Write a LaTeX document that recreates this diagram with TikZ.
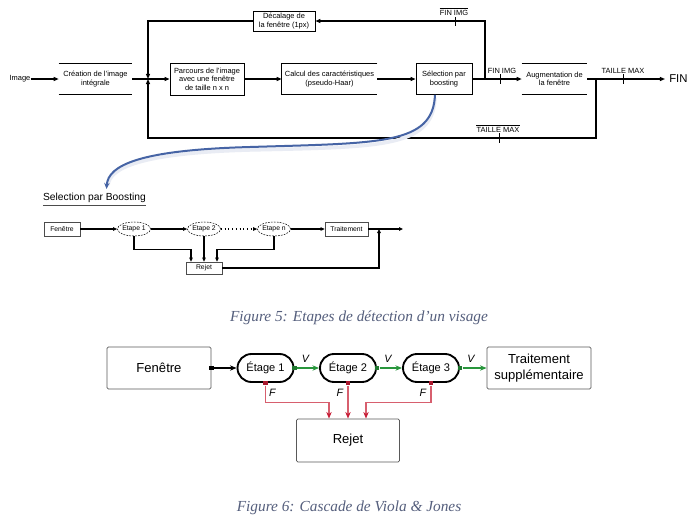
\documentclass[tikz,border=0pt]{standalone}
\usepackage{fontspec}
\setmainfont{Liberation Serif}
\setsansfont{Liberation Sans}
\usetikzlibrary{arrows.meta,shapes.geometric,shapes.misc,calc}
\definecolor{capc}{RGB}{85,95,125}
\definecolor{vgreen}{RGB}{40,150,60}
\definecolor{fred}{RGB}{200,30,55}
\definecolor{fredl}{RGB}{215,95,110}
\definecolor{bcurve}{RGB}{70,100,165}
\tikzset{
  t1/.style={font=\sffamily\fontsize{5.6}{6.3}\selectfont, align=center, inner sep=0pt},
  t2/.style={font=\sffamily\fontsize{5.1}{6}\selectfont, align=center, inner sep=0pt},
  ln/.style={line width=0.9pt},
  bl/.style={line width=0.6pt},
  ar/.style={ln, -{Triangle[length=3.8pt,width=3pt]}},
  mar/.style={line width=0.8pt, -{Triangle[length=3pt,width=2.6pt]}},
  mbox/.style={t2, draw=black!70, line width=0.5pt},
  etp/.style={t2, ellipse, draw, dash pattern=on 1.3pt off 0.9pt, line width=0.4pt, inner sep=0pt, minimum width=24.75pt, minimum height=10.5pt},
  f6t/.style={font=\sffamily\fontsize{9.8}{11.5}\selectfont, align=center, inner sep=0pt},
  f6box/.style={f6t, draw=black!65, line width=0.6pt, rounded corners=1pt, minimum width=78pt},
  etage/.style={rounded rectangle, draw, line width=1.4pt, font=\sffamily\fontsize{8.3}{10}\selectfont, inner sep=0pt, minimum width=42pt, minimum height=21pt},
  sq/.style={inner sep=0pt, minimum size=3.5pt},
  garr/.style={vgreen, line width=0.8pt, -{Stealth[length=5pt,width=4pt]}},
  rarr/.style={fredl, line width=0.8pt, -{Stealth[length=5pt,width=4pt,color=fred]}},
  vlab/.style={font=\sffamily\itshape\fontsize{8}{9}\selectfont, inner sep=0pt},
  figcap/.style={font=\itshape\fontsize{11.5}{13}\selectfont, text=capc, inner sep=0pt}
}
\begin{document}
\begin{tikzpicture}[x=0.75pt,y=-0.75pt]
\useasboundingbox (0,0) rectangle (690,526);
\fill[white] (0,0) rectangle (690,526);

% ---------------- top diagram ----------------
\node[t1] (img) at (20,79) {Image};
\node[t1, minimum width=54.75pt, minimum height=22.5pt] (crea) at (95.5,79) {Création de l'image\\intégrale};
\draw[bl] (crea.north west) -- (crea.north east) (crea.south west) -- (crea.south east);
\node[t1, draw, bl, minimum width=55.5pt, minimum height=24pt] (parc) at (207,79) {Parcours de l'image\\avec une fenêtre\\de taille n x n};
\node[t1, minimum width=71.25pt, minimum height=23.25pt] (calc) at (329.5,79) {Calcul des caractéristiques\\(pseudo-Haar)};
\draw[bl] (calc.north east) -- (calc.north west) -- (calc.south west) -- (calc.south east);
\node[t1, draw, bl, minimum width=42pt, minimum height=23.25pt] (sel) at (444,79) {Sélection par\\boosting};
\node[t1, minimum width=48.75pt, minimum height=23.25pt] (aug) at (554.5,79) {Augmentation de\\la fenêtre};
\draw[bl] (aug.north west) -- (aug.north east) (aug.south west) -- (aug.south east);
\node[t1, draw, bl, minimum width=46.5pt, minimum height=15pt] (dec) at (284,21) {Décalage de\\la fenêtre (1px)};
\node[font=\sffamily\fontsize{8.5}{10}\selectfont, inner sep=0pt, anchor=west] (fin) at (669,79) {FIN};

\coordinate (J1) at (148,79);
\coordinate (J2) at (485,79);
\coordinate (J3) at (596,79);
\coordinate (TL) at (148,21);
\coordinate (TR) at (485,21);
\coordinate (BL) at (148,138);
\coordinate (BR) at (596,138);

\draw[ar] (img.east) -- (crea.west);
\draw[ln] (crea.east) -- (J1);
\draw[ar] (J1) -- (parc.west);
\draw[ar] (parc.east) -- (calc.west);
\draw[ar] (calc.east) -- (sel.west);
\draw[ln] (sel.east) -- (J2);
\draw[ar] (J2) -- (aug.west);
\draw[ar] (J2) -- (TR) -- (dec.east);
\draw[ar] (dec.west) -- (TL) -- (J1);
\draw[ar] (aug.east) -- ([xshift=-3pt]fin.west);
\draw[ar] (J3) -- (BR) -- (BL) -- (J1);

% ticks
\draw[bl] (500,74) -- (500,84);
\draw[bl] (455,17) -- (455,26);
\draw[bl] (623,74) -- (623,84);
\draw[bl] (499,133) -- (499,143);

% labels
\node[t1] (lfi1) at (502,71) {FIN IMG};
\node[t1] (lfi2) at (454,12.5) {FIN IMG};
\draw[line width=0.4pt] ([yshift=1.2pt]lfi2.north west) -- ([yshift=1.2pt]lfi2.north east);
\node[t1] (ltm1) at (623,71) {TAILLE MAX};
\node[t1] (ltm2) at (498,130) {TAILLE MAX};
\draw[line width=0.4pt] ([yshift=1.2pt]ltm2.north west) -- ([yshift=1.2pt]ltm2.north east);

% ---------------- blue curve ----------------
\node[font=\sffamily\fontsize{7.7}{9}\selectfont, inner sep=0pt] (selt) at (94.5,198) {Selection par Boosting};
\draw[line width=0.6pt, black!70] ([yshift=-1.6pt]selt.south west) -- ([yshift=-1.6pt]selt.south east);
\draw[bcurve!12, line width=2.6pt] ($(sel.south)+(-9,3)$) .. controls (433,148) and (380,147) .. (250,150) .. controls (140,153) and (110,168) .. (108,185);
\draw[bcurve, line width=1.5pt, -{Stealth[length=4.5pt,width=4pt]}] ($(sel.south)+(-9,0)$) .. controls (433,145) and (380,143) .. (250,147) .. controls (140,150) and (108,165) .. ($(selt.north)+(12,-4)$);

% ---------------- mini diagram ----------------
\node[mbox, minimum width=27pt, minimum height=10.5pt] (mfen) at (62,229) {Fenêtre};
\node[etp] (e1) at (134,229) {Etape 1};
\node[etp] (e2) at (204,229) {Etape 2};
\node[etp] (en) at (274,229) {Etape n};
\node[mbox, minimum width=32.25pt, minimum height=10.5pt] (mtr) at (346.5,229) {Traitement};
\node[mbox, minimum width=27pt, minimum height=9pt] (mrej) at (204,268) {Rejet};
\coordinate (MJ) at (379,229);
\coordinate (MOut) at (403,229);

\draw[mar] (mfen.east) -- (e1.west);
\draw[mar] (e1.east) -- (e2.west);
\draw[mar, dotted] (e2.east) -- (en.west);
\draw[mar] (en.east) -- (mtr.west);
\draw[mar] (mtr.east) -- (MOut);
\draw[mar] (e1.south) -- ++(0,13) -| ($(mrej.north)+(-13,0)$);
\draw[mar] (e2.south) -- (mrej.north);
\draw[mar] (en.south) -- ++(0,13) -| ($(mrej.north)+(13,0)$);
\draw[mar] (mrej.east) -| (MJ);

\node[figcap] (cap5) at (359,318) {Figure 5: Etapes de détection d'un visage};

% ---------------- figure 6 ----------------
\node[f6box, minimum height=31.5pt] (fen6) at (159,368) {Fenêtre};
\node[etage] (s1) at (265.5,368) {Étage 1};
\node[etage] (s2) at (348,368) {Étage 2};
\node[etage] (s3) at (431,368) {Étage 3};
\node[f6box, minimum height=31.5pt] (tr6) at (539,368) {Traitement\\supplémentaire};
\node[f6box, minimum width=77.25pt, minimum height=32.25pt] (rej6) at (348,440.5) {Rejet};

\node[sq, fill=black] (k0) at (fen6.east) {};
\node[sq, fill=vgreen!80!black] (g1) at (s1.east) {};
\node[sq, fill=vgreen!80!black] (g2) at (s2.east) {};
\node[sq, fill=vgreen!80!black] (g3) at (s3.east) {};
\node[sq, fill=fred!85!black] (r1) at (s1.south) {};
\node[sq, fill=fred!85!black] (r2) at (s2.south) {};
\node[sq, fill=fred!85!black] (r3) at (s3.south) {};

\draw[line width=0.8pt, -{Stealth[length=5pt,width=4pt]}] (k0.east) -- (s1.west);
\draw[garr] (g1.east) -- (s2.west);
\draw[garr] (g2.east) -- (s3.west);
\draw[garr] (g3.east) -- (tr6.west);
\node[vlab] (v1) at ($(g1)+(11,-9)$) {V};
\node[vlab] (v2) at ($(g2)+(11,-9)$) {V};
\node[vlab] (v3) at ($(g3)+(11,-9)$) {V};

\draw[rarr] (r1.south) -- ++(0,17) -| ($(rej6.north)+(-19,0)$);
\draw[rarr] (r2.south) -- (rej6.north);
\draw[rarr] (r3.south) -- ++(0,17) -| ($(rej6.north)+(18,0)$);
\node[vlab] (f1) at ($(s1.south)+(7,10)$) {F};
\node[vlab] (f2) at ($(s2.south)+(-8,10)$) {F};
\node[vlab] (f3) at ($(s3.south)+(-8,10)$) {F};

\node[figcap] (cap6) at (349,508) {Figure 6: Cascade de Viola \& Jones};
\end{tikzpicture}
\end{document}
